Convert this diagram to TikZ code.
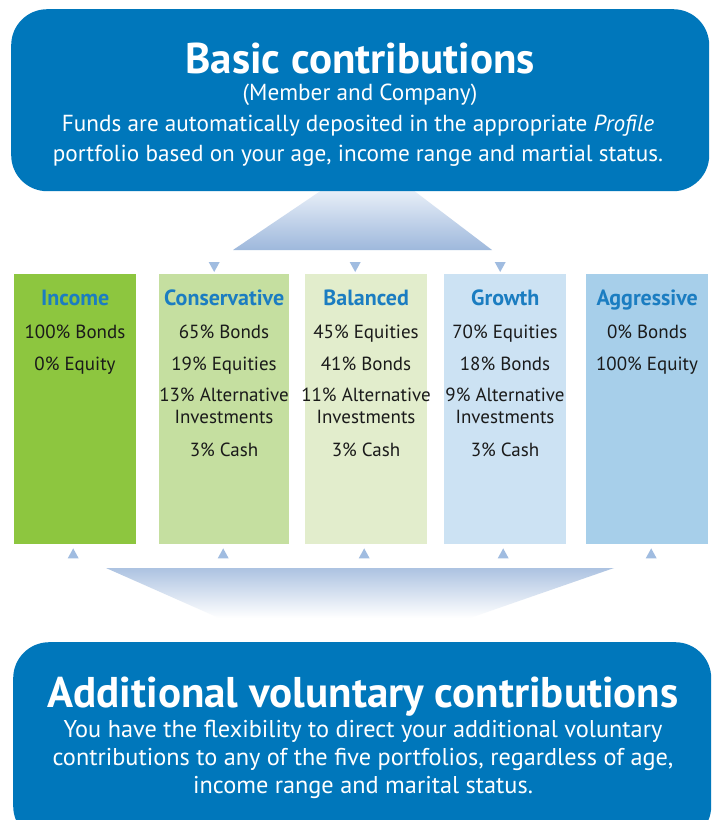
\documentclass[tikz,border=0pt]{standalone}
\usepackage{fontspec}
\setmainfont{PT Sans}
\usetikzlibrary{calc}
\definecolor{boxblue}{RGB}{0,119,187}
\definecolor{headblue}{RGB}{27,125,193}
\definecolor{txt}{RGB}{26,26,26}
\definecolor{triblue}{RGB}{160,188,224}
\definecolor{cIncome}{RGB}{141,198,63}
\definecolor{cCons}{RGB}{197,223,160}
\definecolor{cBal}{RGB}{226,237,204}
\definecolor{cGrowth}{RGB}{204,226,243}
\definecolor{cAggr}{RGB}{167,207,234}
\definecolor{funA}{RGB}{232,239,248}
\definecolor{funB}{RGB}{158,184,220}
\tikzset{
  bigbox/.style={fill=boxblue, rounded corners=36pt, inner sep=0pt, anchor=north west},
  colbox/.style={inner sep=0pt, anchor=north west, minimum height=270pt},
  boxtitle/.style={anchor=base, inner sep=0pt, text=white, font=\fontsize{43}{48}\selectfont\bfseries},
  boxtext/.style={anchor=base, inner sep=0pt, text=white, font=\fontsize{23.2}{28}\selectfont},
  boxtextb/.style={boxtext, font=\fontsize{24.3}{28}\selectfont},
  colhead/.style={anchor=base, inner sep=0pt, text=headblue, font=\fontsize{22}{24}\selectfont\bfseries},
  body/.style={anchor=base, inner sep=0pt, text=txt, font=\fontsize{19}{22}\selectfont},
  tri/.style={fill=triblue},
}
\newcommand\collines[3]{\foreach \t/\yy [count=\i] in {#3} {\node[body] (#1l\i) at (#2,-\yy) {\t};}}
\begin{document}
\begin{tikzpicture}[x=1pt,y=1pt]
\useasboundingbox (0,0) rectangle (712,-820);
\clip (0,0) rectangle (712,-820);
\fill[white] (0,0) rectangle (712,-820);

% funnels
\shade[top color=funA, bottom color=funB] (322,-190) -- (413,-190) -- (492,-250) -- (233,-250) -- cycle;
\shade[top color=funB!85!white, bottom color=white] (106,-568) -- (614,-568) -- (470,-618) -- (219,-618) -- cycle;

% top box
\node[bigbox, minimum width=698pt, minimum height=182pt] (basic) at (11,-9) {};
\node[boxtitle, text depth=0pt] (basicT) at (360,-73) {Basic contributions};
\node[boxtext] (basicS) at (360,-100) {(Member and Company)};
\node[boxtext] (basicL1) at (358,-131) {Funds are automatically deposited in the appropriate \textit{Profile}};
\node[boxtext] (basicL2) at (358,-161) {portfolio based on your age, income range and martial status.};

% bottom box
\node[bigbox, minimum width=698pt, minimum height=200pt] (addl) at (13,-642) {};
\node[boxtitle] (addlT) at (363,-707) {Additional voluntary contributions};
\node[boxtextb] (addlL1) at (363,-737) {You have the flexibility to direct your additional voluntary};
\node[boxtextb] (addlL2) at (363,-765) {contributions to any of the five portfolios, regardless of age,};
\node[boxtextb] (addlL3) at (363,-793) {income range and marital status.};

% columns
\node[colbox, fill=cIncome, minimum width=122pt] (c1) at (14,-274) {};
\node[colbox, fill=cCons, minimum width=130pt] (c2) at (159,-274) {};
\node[colbox, fill=cBal, minimum width=122pt] (c3) at (305,-274) {};
\node[colbox, fill=cGrowth, minimum width=122pt] (c4) at (444,-274) {};
\node[colbox, fill=cAggr, minimum width=122pt] (c5) at (586,-274) {};

\node[colhead] (h1) at (c1.north |- 0,-305) {Income};
\node[colhead] (h2) at (c2.north |- 0,-305) {Conservative};
\node[colhead] (h3) at (c3.north |- 0,-305) {Balanced};
\node[colhead] (h4) at (c4.north |- 0,-305) {Growth};
\node[colhead] (h5) at (c5.north |- 0,-305) {Aggressive};

\collines{c1}{75}{100\% Bonds/338, 0\% Equity/370}
\collines{c2}{224}{65\% Bonds/338, 19\% Equities/370, 13\% Alternative/401, Investments/423, 3\% Cash/456}
\collines{c3}{366}{45\% Equities/338, 41\% Bonds/370, 11\% Alternative/401, Investments/423, 3\% Cash/456}
\collines{c4}{505}{70\% Equities/338, 18\% Bonds/370, 9\% Alternative/401, Investments/423, 3\% Cash/456}
\collines{c5}{647}{0\% Bonds/338, 100\% Equity/370}

% down triangles
\foreach \c/\dx in {c2/-10,c3/-11,c4/-5} {
  \fill[tri] ($(\c.north)+(\dx,12)+(-5.5,0)$) -- ++(11,0) -- ++(-5.5,-10) -- cycle;
}
% up triangles
\foreach \c/\dx in {c1/-2,c2/-1,c3/-2,c4/-2,c5/4} {
  \fill[tri] ($(\c.south)+(\dx,-14)+(-5.5,0)$) -- ++(11,0) -- ++(-5.5,10) -- cycle;
}
\end{tikzpicture}
\end{document}
